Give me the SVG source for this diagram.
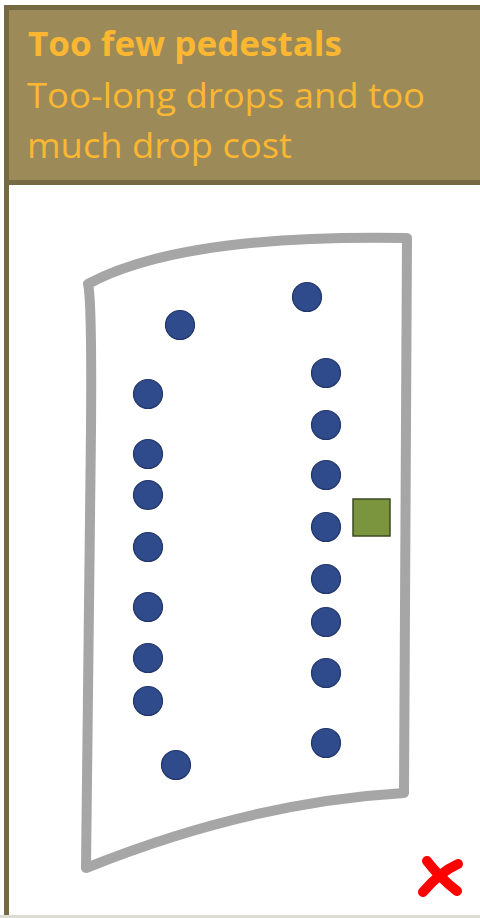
<svg xmlns="http://www.w3.org/2000/svg" width="480" height="918" viewBox="0 0 480 918">
<style>
.dot{fill:#2f4b8b;stroke:#22366a;stroke-width:1.2}
.t{font-family:"Open Sans","Liberation Sans",sans-serif;fill:#fbb731}
</style>
<rect width="480" height="918" fill="#ffffff"/>
<g id="frame">
<rect x="4" y="5" width="480" height="180" fill="#766a45"/>
<rect x="9" y="10" width="471" height="170" fill="#9c8b59"/>
<rect x="4" y="185" width="5" height="731" fill="#766a45"/>
<rect x="0" y="915" width="480" height="3" fill="#dcdcd2"/>
</g>
<g id="header">
<text class="t" x="28" y="56" font-size="34" font-weight="bold" textLength="314" lengthAdjust="spacingAndGlyphs">Too few pedestals</text>
<text class="t" x="27" y="108" font-size="35" textLength="398" lengthAdjust="spacingAndGlyphs">Too-long drops and too</text>
<text class="t" x="27" y="158" font-size="35" textLength="265" lengthAdjust="spacingAndGlyphs">much drop cost</text>
</g>
<g id="outline">
<path d="M88,284 Q180,234 407,238 L404,793 Q250,802 86,868 L91,430 Q92,300 88,284 Z" fill="none" stroke="#a6a6a6" stroke-width="10" stroke-linejoin="round"/>
</g>
<g id="dots">
<circle class="dot" cx="180" cy="325" r="14.5"/>
<circle class="dot" cx="148" cy="394" r="14.5"/>
<circle class="dot" cx="148" cy="454" r="14.5"/>
<circle class="dot" cx="148" cy="495" r="14.5"/>
<circle class="dot" cx="148" cy="547" r="14.5"/>
<circle class="dot" cx="148" cy="607" r="14.5"/>
<circle class="dot" cx="148" cy="658" r="14.5"/>
<circle class="dot" cx="148" cy="701" r="14.5"/>
<circle class="dot" cx="176" cy="765" r="14.5"/>
<circle class="dot" cx="307" cy="297" r="14.5"/>
<circle class="dot" cx="326" cy="373" r="14.5"/>
<circle class="dot" cx="326" cy="425" r="14.5"/>
<circle class="dot" cx="326" cy="475" r="14.5"/>
<circle class="dot" cx="326" cy="527" r="14.5"/>
<circle class="dot" cx="326" cy="579" r="14.5"/>
<circle class="dot" cx="326" cy="622" r="14.5"/>
<circle class="dot" cx="326" cy="673" r="14.5"/>
<circle class="dot" cx="326" cy="743" r="14.5"/>
</g>
<g id="pedestal">
<rect x="353" y="499" width="37" height="37" fill="#7a953d" stroke="#3e4a22" stroke-width="1.5"/>
</g>
<g id="cross">
<path d="M427,861 Q440,878 457,891" fill="none" stroke="#ff0000" stroke-width="10" stroke-linecap="round"/>
<path d="M458,864 Q440,872 423,892" fill="none" stroke="#ff0000" stroke-width="10" stroke-linecap="round"/>
</g>
</svg>
